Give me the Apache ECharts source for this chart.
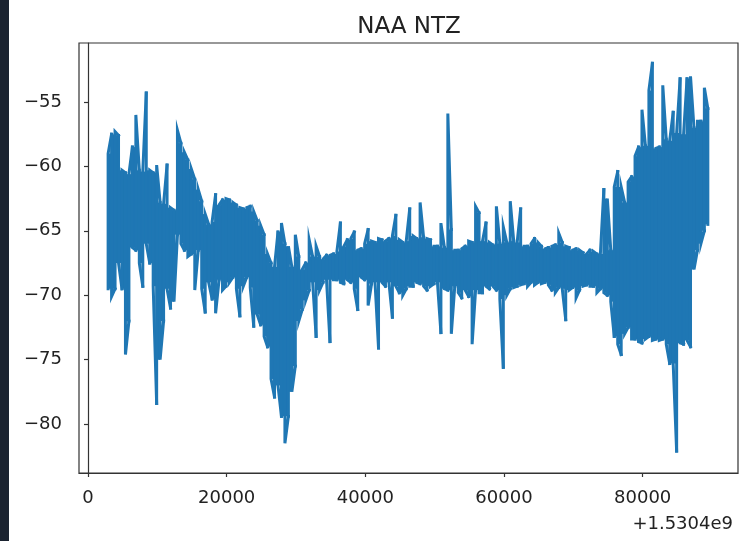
<!DOCTYPE html>
<html>
<head>
<meta charset="utf-8">
<script src="https://cdn.jsdelivr.net/npm/echarts@6/dist/echarts.min.js"></script>
<style>
html,body{margin:0;padding:0;background:#fff;}
#chart{width:743px;height:541px;}
</style>
</head>
<body>
<div id="chart"></div>
<script>
// time offsets (seconds, +1.5304e9) of each sampled stroke
var time = [2900,3400,3900,4400,4900,5400,5900,6400,6900,7400,
  7900,8400,8900,9400,9900,10400,10900,11400,11900,12400,
  12900,13400,13900,14400,14900,15400,15900,16400,16900,17400,
  17900,18400,18900,19400,19900,20400,20900,21400,21900,22400,
  22900,23400,23900,24400,24900,25400,25900,26400,26900,27400,
  27900,28400,28900,29400,29900,30400,30900,31400,31900,32400,
  32900,33400,33900,34400,34900,35400,35900,36400,36900,37400,
  37900,38400,38900,39400,39900,40400,40900,41400,41900,42400,
  42900,43400,43900,44400,44900,45400,45900,46400,46900,47400,
  47900,48400,48900,49400,49900,50400,50900,51400,51900,52400,
  52900,53400,53900,54400,54900,55400,55900,56400,56900,57400,
  57900,58400,58900,59400,59900,60400,60900,61400,61900,62400,
  62900,63400,63900,64400,64900,65400,65900,66400,66900,67400,
  67900,68400,68900,69400,69900,70400,70900,71400,71900,72400,
  72900,73400,73900,74400,74900,75400,75900,76400,76900,77400,
  77900,78400,78900,79400,79900,80400,80900,81400,81900,82400,
  82900,83400,83900,84400,84900,85400,85900,86400,86900,87400,
  87900,88400,88900,89400];
// upper excursion of the signal in each stroke
var high = [-59.0,-57.5,-57.3,-57.6,-60.3,-60.5,-60.6,-58.5,-56.0,-60.3,
  -60.4,-54.3,-60.3,-60.5,-59.9,-62.8,-62.9,-59.9,-63.2,-63.4,
  -57.2,-58.2,-58.9,-59.5,-60.2,-61.0,-61.8,-62.7,-63.7,-64.5,
  -64.3,-62.2,-63.0,-62.6,-62.5,-62.6,-62.8,-63.0,-63.2,-63.3,
  -63.2,-63.1,-63.5,-64.2,-64.6,-65.3,-66.8,-67.5,-67.8,-65.1,
  -64.4,-66.0,-66.2,-67.8,-65.3,-67.0,-68.0,-67.5,-65.7,-67.0,
  -66.2,-67.0,-67.2,-66.9,-66.9,-66.8,-66.6,-64.4,-66.2,-65.7,
  -65.6,-65.1,-66.5,-66.4,-66.0,-64.9,-65.8,-65.9,-65.6,-65.7,
  -65.8,-65.6,-65.4,-63.8,-65.7,-65.9,-65.8,-63.3,-65.4,-65.6,
  -62.8,-65.5,-65.6,-65.7,-66.2,-66.2,-64.4,-66.3,-55.9,-64.9,
  -66.5,-66.5,-66.4,-66.2,-65.8,-65.9,-63.1,-63.6,-65.8,-64.4,
  -65.9,-66.1,-63.1,-66.0,-64.7,-65.9,-62.7,-65.8,-65.9,-63.3,
  -66.2,-66.2,-66.0,-65.6,-65.9,-66.2,-66.4,-66.3,-66.2,-66.1,
  -65.2,-65.9,-66.2,-66.3,-66.5,-66.4,-66.5,-66.7,-66.8,-66.5,
  -66.6,-66.8,-66.8,-61.8,-62.5,-66.5,-61.6,-60.4,-61.6,-62.8,
  -61.2,-60.8,-59.2,-58.5,-55.6,-58.4,-54.1,-52.0,-58.6,-58.5,
  -53.7,-57.9,-58.0,-55.8,-57.4,-53.2,-57.5,-53.2,-53.0,-57.0,
  -56.5,-56.5,-53.9,-55.5];
// lower excursion of the signal in each stroke
var low = [-69.5,-70.1,-69.5,-67.5,-69.5,-74.6,-72.0,-66.3,-66.5,-67.5,
  -69.3,-66.0,-67.5,-69.3,-78.4,-75.0,-72.0,-69.5,-71.0,-70.5,
  -65.3,-66.0,-66.5,-67.0,-66.8,-69.6,-66.5,-69.5,-71.3,-69.0,
  -70.3,-71.4,-68.8,-69.6,-69.3,-69.0,-68.6,-69.5,-71.6,-69.3,
  -68.6,-69.4,-72.4,-71.5,-72.3,-73.2,-74.0,-76.5,-77.9,-77.0,
  -79.4,-81.5,-79.4,-77.5,-75.5,-72.0,-71.1,-70.4,-69.6,-69.0,
  -73.2,-69.6,-69.0,-68.8,-73.6,-68.8,-68.8,-69.0,-69.1,-68.8,
  -69.0,-69.5,-71.1,-68.6,-68.8,-70.8,-69.1,-69.0,-74.1,-69.0,
  -69.3,-69.0,-71.7,-69.3,-69.8,-70.0,-69.5,-69.3,-69.3,-69.0,
  -69.1,-69.3,-69.6,-69.3,-69.1,-69.0,-72.9,-69.5,-69.6,-73.0,
  -69.3,-69.8,-70.2,-69.6,-70.1,-73.8,-69.6,-69.8,-69.8,-69.3,
  -69.5,-69.3,-69.6,-70.3,-75.6,-70.0,-69.5,-69.4,-69.3,-69.2,
  -69.1,-69.3,-69.0,-69.2,-69.0,-69.1,-69.0,-69.2,-69.6,-69.8,
  -69.4,-69.5,-71.9,-69.6,-69.4,-70.2,-69.6,-69.3,-69.2,-69.3,
  -69.3,-69.8,-69.5,-69.8,-70.0,-70.5,-73.2,-73.8,-74.6,-73.0,
  -72.5,-73.4,-73.4,-73.6,-73.7,-73.4,-73.2,-73.5,-73.4,-73.5,
  -73.4,-73.8,-75.3,-75.3,-82.1,-73.7,-73.8,-73.5,-74.0,-68.0,
  -66.5,-66.0,-65.0,-64.5];
var xTicks = [0, 20000, 40000, 60000, 80000];
var yTicks = [-80, -75, -70, -65, -60, -55];
var titleText = 'NAA NTZ';
var offsetText = '+1.5304e9';

// one item per stroke: [t, low, high, nextT, nextLow, nextHigh]
var strokeData = [];
for (var i = 0; i < time.length; i++) {
  var j = Math.min(i + 1, time.length - 1);
  strokeData.push([time[i], low[i], high[i], time[j], low[j], high[j]]);
}

var LINE_COLOR = '#1f77b4';
var FONT = 'DejaVu Sans';
var chart = echarts.init(document.getElementById('chart'), null, {renderer: 'canvas'});
chart.setOption({
  animation: false,
  backgroundColor: '#ffffff',
  title: {
    text: titleText,
    left: 404,
    textAlign: 'center',
    top: 11,
    textStyle: {fontFamily: FONT, fontSize: 23, fontWeight: 'normal', color: '#222'}
  },
  grid: {
    left: 79, top: 43, width: 659, height: 430,
    show: true, borderColor: '#333', borderWidth: 1.2, backgroundColor: '#ffffff',
    containLabel: false, outerBoundsMode: 'none'
  },
  xAxis: {
    type: 'value', min: -1300, max: 93750,
    splitLine: {show: false},
    axisLine: {show: true, lineStyle: {color: '#333', width: 1.2}},
    axisTick: {show: true, length: 4, lineStyle: {color: '#333', width: 1.2}, customValues: xTicks},
    axisLabel: {customValues: xTicks, margin: 16, fontFamily: FONT, fontSize: 18, color: '#222',
      formatter: function (v) { return String(v); }}
  },
  yAxis: {
    type: 'value', min: -83.8, max: -50.42,
    splitLine: {show: false},
    axisLine: {show: true, lineStyle: {color: '#333', width: 1.2}},
    axisTick: {show: true, length: 4, lineStyle: {color: '#333', width: 1.2}, customValues: yTicks},
    axisLabel: {customValues: yTicks, margin: 17, fontFamily: FONT, fontSize: 18, color: '#222',
      formatter: function (v) { return (v < 0 ? '\u2212' : '') + Math.abs(v); }}
  },
  graphic: [
    {type: 'rect', left: 0, top: 0, shape: {x: 0, y: 0, width: 9, height: 541}, style: {fill: '#1b2330'}, silent: true},
    {type: 'text', style: {text: offsetText, x: 733, y: 524, align: 'right', verticalAlign: 'middle',
      font: '18px "DejaVu Sans"', fill: '#222'}, silent: true}
  ],
  series: [{
    type: 'custom',
    clip: true,
    data: strokeData,
    encode: {x: [0, 3], y: [1, 2, 4, 5]},
    renderItem: function (params, api) {
      var idx = params.dataIndex;
      var t = api.value(0), lo = api.value(1), hi = api.value(2);
      var tn = api.value(3), loN = api.value(4), hiN = api.value(5);
      var even = idx % 2 === 0;
      var a = api.coord([t, even ? lo : hi]);
      var b = api.coord([t, even ? hi : lo]);
      var c = api.coord([tn, even ? hiN : loN]);
      var children = [];
      var top = Math.min(hi, hiN), bot = Math.max(lo, loN);
      if (tn > t && top > bot) {
        var p1 = api.coord([t, top]), p2 = api.coord([tn, bot]);
        children.push({
          type: 'rect',
          shape: {x: p1[0], y: p1[1], width: p2[0] - p1[0], height: p2[1] - p1[1]},
          style: {fill: LINE_COLOR}
        });
      }
      children.push({
        type: 'polyline',
        shape: {points: [a, b, c]},
        style: {stroke: LINE_COLOR, lineWidth: 3, fill: null, lineJoin: 'miter', lineCap: 'square'}
      });
      return {type: 'group', children: children};
    }
  }]
});
</script>
</body>
</html>
